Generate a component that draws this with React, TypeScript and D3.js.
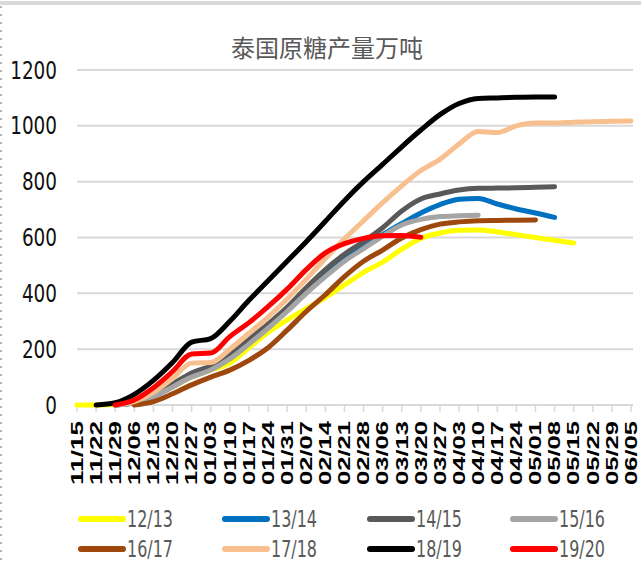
import { useEffect, useRef } from 'react';
import * as d3 from 'd3';

const weeks = [
	'11/15', '11/22', '11/29', '12/06', '12/13', '12/20', '12/27', '01/03', '01/10', '01/17',
	'01/24', '01/31', '02/07', '02/14', '02/21', '02/28', '03/06', '03/13', '03/20', '03/27',
	'04/03', '04/10', '04/17', '04/24', '05/01', '05/08', '05/15', '05/22', '05/29', '06/05',
];

type V = number | null;

const s1213: V[] = [0, 0, 3, 15, 35, 65, 100, 125, 150, 205, 260, 305, 345, 385, 430, 475, 512, 558, 597, 616, 626, 627, 620, 610, 600, 590, 580, null, null, null];
const s1314: V[] = [null, null, 0, 8, 30, 65, 105, 130, 170, 225, 280, 345, 410, 475, 528, 570, 610, 650, 688, 718, 737, 740, 720, 702, 688, 672, null, null, null, null];
const s1415: V[] = [null, null, 0, 10, 35, 75, 115, 140, 180, 235, 290, 350, 420, 485, 540, 585, 635, 695, 738, 756, 770, 776, 777, 778, 780, 782, null, null, null, null];
const s1516: V[] = [null, null, 0, 8, 30, 65, 100, 125, 165, 218, 275, 335, 400, 460, 515, 560, 605, 645, 665, 675, 678, 680, null, null, null, null, null, null, null, null];
const s1617: V[] = [null, null, null, 0, 12, 40, 72, 100, 125, 160, 205, 268, 335, 395, 460, 515, 555, 598, 628, 648, 656, 660, 661, 662, 663, null, null, null, null, null];
const s1718: V[] = [null, null, 0, 12, 45, 95, 150, 152, 200, 257, 315, 380, 450, 525, 595, 660, 725, 785, 840, 880, 935, 980, 976, 1000, 1010, 1010, 1013, 1015, 1016, 1017];
const s1819: V[] = [null, 0, 8, 38, 88, 152, 225, 238, 300, 375, 445, 515, 585, 658, 732, 800, 862, 925, 985, 1040, 1080, 1098, 1100, 1102, 1103, 1103, null, null, null, null];
const s1920: V[] = [null, null, 0, 18, 62, 120, 183, 186, 245, 295, 352, 415, 485, 545, 578, 597, 606, 607, 601, null, null, null, null, null, null, null, null, null, null, null];

const seriesNames = ['12/13', '13/14', '14/15', '15/16', '16/17', '17/18', '18/19', '19/20'];
const seriesValues = [s1213, s1314, s1415, s1516, s1617, s1718, s1819, s1920];
const seriesColors = ['#FFFF00', '#0070C0', '#595959', '#A5A5A5', '#9E480E', '#F9C08F', '#000000', '#FF0000'];

const yTicks = [0, 200, 400, 600, 800, 1000, 1200];

const W = 641;
const H = 566;
const narrow = '"Liberation Sans Narrow", "DejaVu Sans Condensed", sans-serif';

const App = () => {
	const svgRef = useRef<SVGSVGElement>(null);

	useEffect(() => {
		if (!svgRef.current) return;
		const svg = d3.select(svgRef.current);
		svg.selectAll('*').remove();

		const x = d3.scaleLinear().domain([0, weeks.length - 1]).range([77, 631]);
		const y = d3.scaleLinear().domain([0, 1200]).range([405, 70]);

		// frame bits
		svg.append('rect').attr('width', W).attr('height', H).attr('fill', '#fff');
		svg.append('line')
			.attr('x1', 0).attr('x2', W).attr('y1', 3).attr('y2', 3)
			.attr('stroke', '#d9d9d9').attr('stroke-width', 4);
		svg.append('line')
			.attr('x1', 1).attr('x2', 1).attr('y1', 6).attr('y2', H)
			.attr('stroke', '#9a9a9a').attr('stroke-width', 1.5)
			.attr('stroke-dasharray', '2,6');

		// title
		svg.append('text')
			.text('泰国原糖产量万吨')
			.attr('x', 327).attr('y', 50)
			.attr('text-anchor', 'middle')
			.attr('dominant-baseline', 'middle')
			.style('font-family', '"Noto Sans CJK SC", sans-serif')
			.style('font-size', '24px')
			.style('fill', '#595959');

		// grid
		svg.append('g')
			.selectAll('line')
			.data(yTicks.filter((t) => t > 0))
			.join('line')
			.attr('x1', 77).attr('x2', 633)
			.attr('y1', (d) => y(d)).attr('y2', (d) => y(d))
			.attr('stroke', '#d9d9d9').attr('stroke-width', 2);

		// y labels
		svg.append('g')
			.selectAll('text')
			.data(yTicks)
			.join('text')
			.text((d) => d)
			.attr('x', 57)
			.attr('y', (d) => y(d))
			.attr('dy', '0.36em')
			.attr('text-anchor', 'end')
			.attr('textLength', (d) => String(d).length * 11.7)
			.attr('lengthAdjust', 'spacingAndGlyphs')
			.style('font-family', narrow)
			.style('font-size', '24px')
			.style('fill', '#111');

		// x axis
		svg.append('line')
			.attr('x1', 77).attr('x2', 633)
			.attr('y1', 405).attr('y2', 405)
			.attr('stroke', '#d9d9d9').attr('stroke-width', 2);
		svg.append('g')
			.selectAll('line')
			.data(weeks)
			.join('line')
			.attr('x1', (_, i) => x(i)).attr('x2', (_, i) => x(i))
			.attr('y1', 405).attr('y2', 412)
			.attr('stroke', '#d9d9d9').attr('stroke-width', 1.5);
		svg.append('g')
			.selectAll('text')
			.data(weeks)
			.join('text')
			.text((d) => d)
			.attr('transform', (_, i) => `translate(${x(i)},421) rotate(-90)`)
			.attr('dy', '0.36em')
			.attr('text-anchor', 'end')
			.attr('textLength', 64)
			.attr('lengthAdjust', 'spacingAndGlyphs')
			.style('font-family', '"Liberation Sans", Arial, sans-serif')
			.style('font-weight', 'bold')
			.style('font-size', '16px')
			.style('fill', '#000');

		// series
		const line = d3
			.line<V>()
			.defined((d) => d !== null)
			.x((_, i) => x(i))
			.y((d) => y(d as number))
			.curve(d3.curveMonotoneX);

		svg.append('g')
			.selectAll('path')
			.data(seriesValues)
			.join('path')
			.attr('d', (d) => line(d) ?? '')
			.attr('fill', 'none')
			.attr('stroke', (_, i) => seriesColors[i])
			.attr('stroke-width', 5)
			.attr('stroke-linecap', 'round')
			.attr('stroke-linejoin', 'round');

		// legend
		const colX = [79, 223, 368, 511];
		const rowY = [519, 549];
		const lg = svg.append('g')
			.selectAll('g')
			.data(seriesNames)
			.join('g')
			.attr('transform', (_, i) => `translate(${colX[i % 4]},${rowY[Math.floor(i / 4)]})`);
		lg.append('line')
			.attr('x1', 2).attr('x2', 44)
			.attr('stroke', (_, i) => seriesColors[i])
			.attr('stroke-width', 6)
			.attr('stroke-linecap', 'round');
		lg.append('text')
			.text((d) => d)
			.attr('x', 48)
			.attr('dy', '0.36em')
			.attr('textLength', 46)
			.attr('lengthAdjust', 'spacingAndGlyphs')
			.style('font-family', narrow)
			.style('font-size', '23px')
			.style('fill', '#595959');
	}, []);

	return (
		<svg
			ref={svgRef}
			width={W}
			height={H}
			style={{ position: 'absolute', left: 0, top: 0 }}
		></svg>
	);
};

export default App;
